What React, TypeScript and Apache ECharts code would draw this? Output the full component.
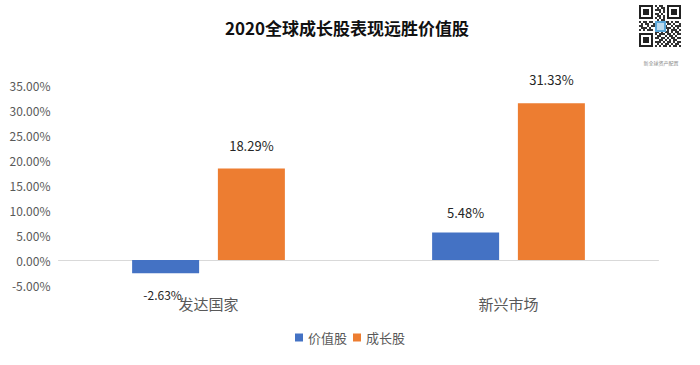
import React, { useEffect, useRef } from "react";
import * as echarts from "echarts";

const categories = ["发达国家", "新兴市场"];
const valueStocks = [-2.63, 5.48];
const growthStocks = [18.29, 31.33];
const seriesNames = ["价值股", "成长股"];
const titleText = "2020全球成长股表现远胜价值股";
const qrCaption = "新全球资产配置";

const FONT = "'Noto Sans CJK SC', 'Noto Sans', sans-serif";

function qrGraphics() {
  const els: any[] = [];
  const x0 = 639, y0 = 5, s = 2;
  const n = 21;
  const finder = (fx: number, fy: number) => {
    els.push({ type: "rect", shape: { x: x0 + fx * s, y: y0 + fy * s, width: 7 * s, height: 7 * s }, style: { fill: "#222" } });
    els.push({ type: "rect", shape: { x: x0 + (fx + 1) * s, y: y0 + (fy + 1) * s, width: 5 * s, height: 5 * s }, style: { fill: "#fff" } });
    els.push({ type: "rect", shape: { x: x0 + (fx + 2) * s, y: y0 + (fy + 2) * s, width: 3 * s, height: 3 * s }, style: { fill: "#222" } });
  };
  const pattern = [
    "000000001011000000000",
    "000000000101100000000",
    "000000001110100000000",
    "000000000010100000000",
    "000000001101000000000",
    "000000000110100000000",
    "000000001010100000000",
    "000000000101100000000",
    "101101101001011010110",
    "010110011110101101001",
    "110010111000110010111",
    "011101000111011101010",
    "101011101010101011101",
    "000000001101011010110",
    "000000001011101101011",
    "000000000110010110100",
    "000000001101101011011",
    "000000000011010101100",
    "000000001110101101011",
    "000000000101011010110",
    "000000001010110101101",
  ];
  for (let r = 0; r < n; r++) {
    for (let c = 0; c < n; c++) {
      if (pattern[r][c] === "1") {
        els.push({ type: "rect", shape: { x: x0 + c * s, y: y0 + r * s, width: s, height: s }, style: { fill: "#333" } });
      }
    }
  }
  finder(0, 0);
  finder(14, 0);
  finder(0, 14);
  els.push({ type: "rect", shape: { x: x0 + 16, y: y0 + 16, width: 11, height: 11 }, style: { fill: "#5aa6d8" } });
  els.push({ type: "rect", shape: { x: x0 + 18, y: y0 + 18, width: 7, height: 7 }, style: { fill: "#ffffff", opacity: 0.6 } });
  els.push({
    type: "text",
    style: { x: 661, y: 62, text: qrCaption, fill: "#888", fontSize: 5, fontFamily: FONT, align: "center", verticalAlign: "middle" },
  });
  return els;
}

export default function App() {
  const ref = useRef<HTMLDivElement>(null);
  useEffect(() => {
    if (!ref.current) return;
    const chart = echarts.init(ref.current, null, { renderer: "svg" });
    const label = (pos: string, dist: number, size = 13, offset: number[] = [0, 0]) => ({
      show: true,
      position: pos,
      distance: dist,
      offset,
      formatter: (p: any) => p.value.toFixed(2) + "%",
      color: "#262626",
      fontSize: size,
      fontFamily: FONT,
    });
    chart.setOption({
      animation: false,
      backgroundColor: "#ffffff",
      title: {
        text: titleText,
        left: 342,
        textAlign: "center",
        top: 14,
        textStyle: { fontSize: 17, fontWeight: "bold", color: "#111", fontFamily: FONT },
      },
      legend: {
        data: seriesNames,
        bottom: 16,
        left: "center",
        itemWidth: 8,
        itemHeight: 8,
        itemGap: 6,
        icon: "rect",
        textStyle: { fontSize: 13, color: "#595959", fontFamily: FONT },
      },
      grid: { left: 58.5, right: 41.5, top: 85, bottom: 80, containLabel: false },
      xAxis: {
        type: "category",
        data: categories,
        axisLine: { show: true, lineStyle: { color: "#d9d9d9", width: 1 }, onZero: true },
        axisTick: { show: false },
        axisLabel: { fontSize: 15, color: "#595959", fontFamily: FONT, margin: 11 },
        position: "bottom",
      },
      yAxis: {
        type: "value",
        min: -5,
        max: 35,
        interval: 5,
        splitLine: { show: false },
        axisLine: { show: false },
        axisTick: { show: false },
        axisLabel: {
          formatter: (v: number) => v.toFixed(2) + "%",
          fontSize: 12,
          color: "#595959",
          fontFamily: FONT,
          margin: 8,
        },
      },
      series: [
        {
          name: seriesNames[0],
          type: "bar",
          data: valueStocks.map((v) => ({
            value: v,
            label: v < 0 ? label("bottom", 15, 12, [-3, 0]) : label("top", 14),
          })),
          barWidth: 67,
          barGap: "28%",
          itemStyle: { color: "#4472c4" },
        },
        {
          name: seriesNames[1],
          type: "bar",
          data: growthStocks.map((v) => ({ value: v, label: label("top", 17) })),
          barWidth: 67,
          itemStyle: { color: "#ed7d31" },
        },
      ],
      graphic: qrGraphics(),
    });
    return () => chart.dispose();
  }, []);
  return <div ref={ref} style={{ width: 700, height: 365, position: "absolute", left: 0, top: 0 }} />;
}
